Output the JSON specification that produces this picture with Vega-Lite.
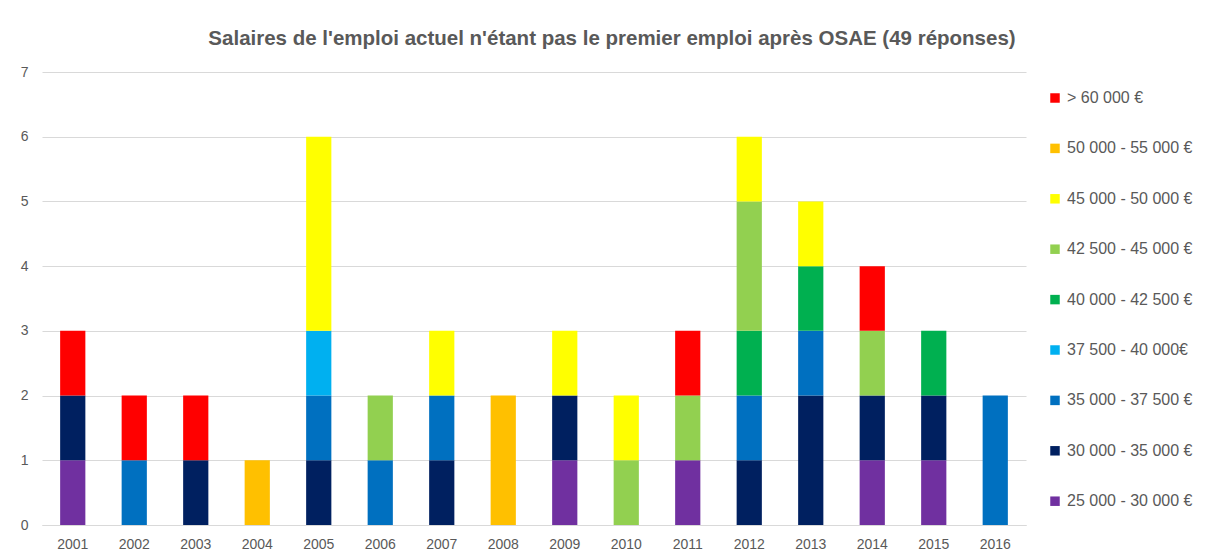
{
  "$schema": "https://vega.github.io/schema/vega-lite/v6.json",
  "width": 984,
  "height": 453,
  "autosize": {"type": "none"},
  "padding": {"left": 42, "top": 72, "right": 182, "bottom": 34},
  "background": "white",
  "title": {
    "text": "Salaires de l'emploi actuel n'étant pas le premier emploi après OSAE (49 réponses)",
    "font": "Liberation Sans",
    "fontSize": 20.5,
    "fontWeight": "bold",
    "color": "#595959",
    "anchor": "middle",
    "dx": 78,
    "offset": 16
  },
  "data": {
    "values": [
      {"annee": "2001", "tranche": "25 000 - 30 000 €", "ordre": 1, "n": 1},
      {"annee": "2001", "tranche": "30 000 - 35 000 €", "ordre": 2, "n": 1},
      {"annee": "2001", "tranche": "> 60 000 €", "ordre": 9, "n": 1},
      {"annee": "2002", "tranche": "35 000 - 37 500 €", "ordre": 3, "n": 1},
      {"annee": "2002", "tranche": "> 60 000 €", "ordre": 9, "n": 1},
      {"annee": "2003", "tranche": "30 000 - 35 000 €", "ordre": 2, "n": 1},
      {"annee": "2003", "tranche": "> 60 000 €", "ordre": 9, "n": 1},
      {"annee": "2004", "tranche": "50 000 - 55 000 €", "ordre": 8, "n": 1},
      {"annee": "2005", "tranche": "30 000 - 35 000 €", "ordre": 2, "n": 1},
      {"annee": "2005", "tranche": "35 000 - 37 500 €", "ordre": 3, "n": 1},
      {"annee": "2005", "tranche": "37 500 - 40 000€", "ordre": 4, "n": 1},
      {"annee": "2005", "tranche": "45 000 - 50 000 €", "ordre": 7, "n": 3},
      {"annee": "2006", "tranche": "35 000 - 37 500 €", "ordre": 3, "n": 1},
      {"annee": "2006", "tranche": "42 500 - 45 000 €", "ordre": 6, "n": 1},
      {"annee": "2007", "tranche": "30 000 - 35 000 €", "ordre": 2, "n": 1},
      {"annee": "2007", "tranche": "35 000 - 37 500 €", "ordre": 3, "n": 1},
      {"annee": "2007", "tranche": "45 000 - 50 000 €", "ordre": 7, "n": 1},
      {"annee": "2008", "tranche": "50 000 - 55 000 €", "ordre": 8, "n": 2},
      {"annee": "2009", "tranche": "25 000 - 30 000 €", "ordre": 1, "n": 1},
      {"annee": "2009", "tranche": "30 000 - 35 000 €", "ordre": 2, "n": 1},
      {"annee": "2009", "tranche": "45 000 - 50 000 €", "ordre": 7, "n": 1},
      {"annee": "2010", "tranche": "42 500 - 45 000 €", "ordre": 6, "n": 1},
      {"annee": "2010", "tranche": "45 000 - 50 000 €", "ordre": 7, "n": 1},
      {"annee": "2011", "tranche": "25 000 - 30 000 €", "ordre": 1, "n": 1},
      {"annee": "2011", "tranche": "42 500 - 45 000 €", "ordre": 6, "n": 1},
      {"annee": "2011", "tranche": "> 60 000 €", "ordre": 9, "n": 1},
      {"annee": "2012", "tranche": "30 000 - 35 000 €", "ordre": 2, "n": 1},
      {"annee": "2012", "tranche": "35 000 - 37 500 €", "ordre": 3, "n": 1},
      {"annee": "2012", "tranche": "40 000 - 42 500 €", "ordre": 5, "n": 1},
      {"annee": "2012", "tranche": "42 500 - 45 000 €", "ordre": 6, "n": 2},
      {"annee": "2012", "tranche": "45 000 - 50 000 €", "ordre": 7, "n": 1},
      {"annee": "2013", "tranche": "30 000 - 35 000 €", "ordre": 2, "n": 2},
      {"annee": "2013", "tranche": "35 000 - 37 500 €", "ordre": 3, "n": 1},
      {"annee": "2013", "tranche": "40 000 - 42 500 €", "ordre": 5, "n": 1},
      {"annee": "2013", "tranche": "45 000 - 50 000 €", "ordre": 7, "n": 1},
      {"annee": "2014", "tranche": "25 000 - 30 000 €", "ordre": 1, "n": 1},
      {"annee": "2014", "tranche": "30 000 - 35 000 €", "ordre": 2, "n": 1},
      {"annee": "2014", "tranche": "42 500 - 45 000 €", "ordre": 6, "n": 1},
      {"annee": "2014", "tranche": "> 60 000 €", "ordre": 9, "n": 1},
      {"annee": "2015", "tranche": "25 000 - 30 000 €", "ordre": 1, "n": 1},
      {"annee": "2015", "tranche": "30 000 - 35 000 €", "ordre": 2, "n": 1},
      {"annee": "2015", "tranche": "40 000 - 42 500 €", "ordre": 5, "n": 1},
      {"annee": "2016", "tranche": "35 000 - 37 500 €", "ordre": 3, "n": 2}
    ]
  },
  "mark": {"type": "bar"},
  "encoding": {
    "x": {
      "field": "annee",
      "type": "ordinal",
      "scale": {"paddingInner": 0.59, "paddingOuter": 0.295},
      "axis": {
        "title": null,
        "labelAngle": 0,
        "labelFont": "Liberation Sans",
        "labelFontSize": 14,
        "labelColor": "#595959",
        "labelPadding": 12,
        "ticks": false,
        "domainColor": "#D9D9D9",
        "domainWidth": 1
      }
    },
    "y": {
      "field": "n",
      "type": "quantitative",
      "aggregate": "sum",
      "stack": "zero",
      "scale": {"domain": [0, 7]},
      "axis": {
        "title": null,
        "values": [0, 1, 2, 3, 4, 5, 6, 7],
        "labelFont": "Liberation Sans",
        "labelFontSize": 14,
        "labelColor": "#595959",
        "labelPadding": 14,
        "ticks": false,
        "domain": false,
        "gridColor": "#D9D9D9",
        "gridWidth": 1
      }
    },
    "order": {"field": "ordre", "type": "quantitative", "sort": "ascending"},
    "color": {
      "field": "tranche",
      "type": "nominal",
      "scale": {
        "domain": ["> 60 000 €", "50 000 - 55 000 €", "45 000 - 50 000 €", "42 500 - 45 000 €", "40 000 - 42 500 €", "37 500 - 40 000€", "35 000 - 37 500 €", "30 000 - 35 000 €", "25 000 - 30 000 €"],
        "range": ["#FF0000", "#FFC000", "#FFFF00", "#92D050", "#00B050", "#00B0F0", "#0070C0", "#002060", "#7030A0"]
      },
      "legend": {
        "title": null,
        "orient": "none",
        "legendX": 1005,
        "legendY": 18,
        "symbolType": "square",
        "symbolSize": 90,
        "symbolStrokeWidth": 0,
        "labelFont": "Liberation Sans",
        "labelFontSize": 16,
        "labelColor": "#595959",
        "labelOffset": 4,
        "rowPadding": 34.4,
        "labelLimit": 300
      }
    }
  },
  "config": {
    "view": {"stroke": null}
  }
}
